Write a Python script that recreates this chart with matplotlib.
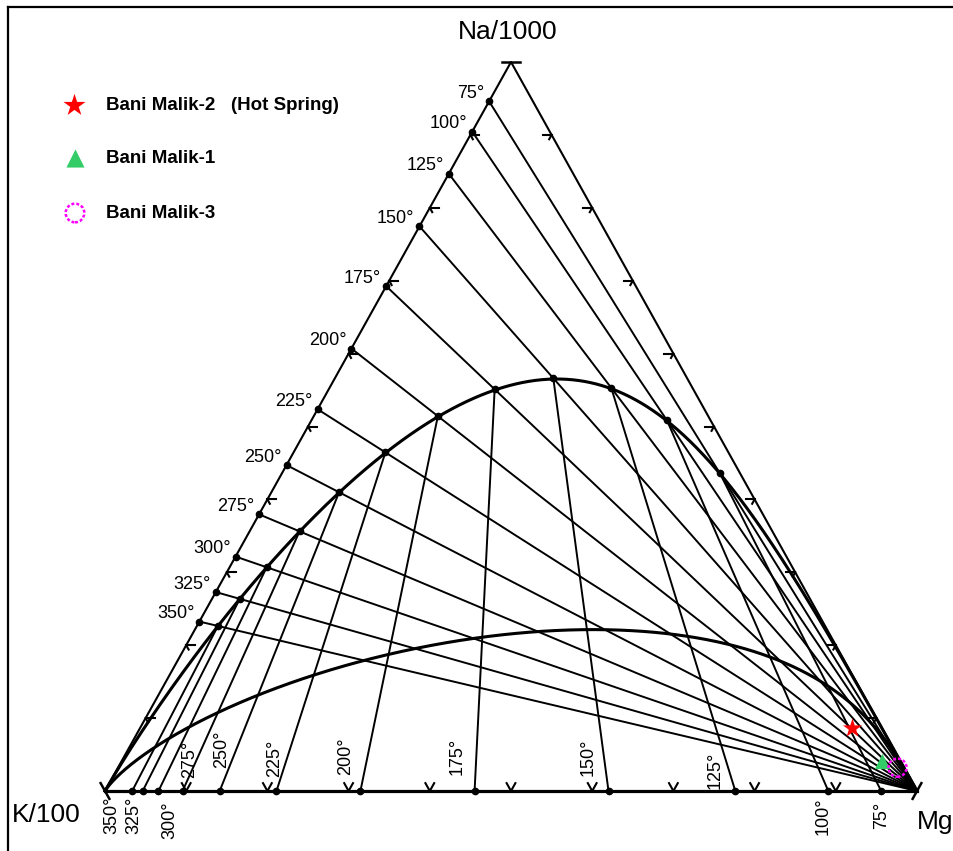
import numpy as np
import matplotlib.pyplot as plt
from matplotlib.lines import Line2D

plt.rcParams['font.family'] = ['Liberation Sans', 'DejaVu Sans']

# isotherm temperatures, deg C
temps = [75, 100, 125, 150, 175, 200, 225, 250, 275, 300, 325, 350]

# Giggenbach (1988) geothermometers
# log(Na/K) = NAK_A/(T+273) - NAK_B ; log(K^2/Mg) = KMG_B - KMG_A/(T+273)
NAK_A, NAK_B = 1390.0, 1.75
KMG_A, KMG_B = 4410.0, 14.0
MI_FULL, MI_PARTIAL = 2.66, 2.0   # maturity index of the two curves

# samples, in % of (Na/1000 + K/100 + sqrt(Mg))
names = ['Bani Malik-2   (Hot Spring)', 'Bani Malik-1', 'Bani Malik-3']
na_pct = [8.6, 4.1, 3.2]
k_pct = [3.7, 2.3, 0.8]
mg_pct = [87.7, 93.6, 96.0]

# ---- ternary helpers (K left, Mg right, Na top) ----
PX, PY = 812.0, 729.0          # pixels per unit in x / y


def tern(na, k, mg):
    na, k, mg = np.asarray(na, float), np.asarray(k, float), np.asarray(mg, float)
    s = na + k + mg
    return (mg + na / 2) / s, na / s


def pix(px, py):
    # layout helper: image pixel -> data coords
    return (px - 105) / PX, (791 - py) / PY


def step(d, L):
    # move L pixels along data-direction d
    dx, dy = d
    n = np.hypot(dx * PX, dy * PY)
    return dx / n * L, dy / n * L


fig = plt.figure(figsize=(9.54, 8.51), dpi=100)
ax = fig.add_axes([0, 0, 1, 1])
ax.set_xlim(-105 / PX, 849 / PX)
ax.set_ylim(-60 / PY, 791 / PY)
ax.axis('off')

# border (top and left only)
fig.add_artist(Line2D([8 / 954, 1], [1 - 7 / 851] * 2, color='black', lw=1.6,
                      transform=fig.transFigure))
fig.add_artist(Line2D([8 / 954] * 2, [1 - 7 / 851, 0], color='black', lw=1.6,
                      transform=fig.transFigure))

# triangle
ax.plot([0, 0.5, 1], [0, 1, 0], color='black', lw=1.5)
ax.plot([0, 1], [0, 0], color='black', lw=2.3)

# edge ticks every 10 %
for f in np.arange(1, 10) / 10:
    # left edge
    x0, y0 = f / 2, f
    for d, L in [((1, 0), 9), ((0.5, -1), 5)]:
        dx, dy = step(d, L)
        ax.plot([x0, x0 + dx], [y0, y0 + dy], color='black', lw=1.5)
    # right edge
    x0, y0 = 1 - f / 2, f
    for d, L in [((-1, 0), 9), ((-0.5, -1), 5)]:
        dx, dy = step(d, L)
        ax.plot([x0, x0 + dx], [y0, y0 + dy], color='black', lw=1.5)
    # bottom edge
    x0, y0 = f, 0
    for d in [(-0.5, 1), (0.5, 1)]:
        dx, dy = step(d, 9)
        ax.plot([x0, x0 + dx], [y0, y0 + dy], color='black', lw=1.5)

# corner bars
for (cx, cy), d in [((0.5, 1), (1, 0)), ((0, 0), (-0.5, 1)), ((1, 0), (0.5, 1))]:
    dx, dy = step(d, 9)
    ax.plot([cx - dx, cx + dx], [cy - dy, cy + dy], color='black', lw=1.8)

# equilibrium curves
L = np.linspace(-7, 7, 3000)          # log(k/mg) in ternary units
for mi in [MI_FULL, MI_PARTIAL]:
    lkn = 2.26 + 0.63 * L - mi          # log(k/na)
    cx, cy = tern(10 ** (-lkn), np.ones_like(L), 10 ** (-L))
    ax.plot(cx, cy, color='black', lw=2.2)

# isotherms
theta = np.array(temps, float) + 273
r_nak = 10 ** (NAK_A / theta - NAK_B) / 10        # (Na/1000)/(K/100)
left_na = r_nak / (1 + r_nak)
r_kmg = 10 ** ((KMG_B - KMG_A / theta - 4) / 2)   # (K/100)/sqrt(Mg)
bot_mg = 1 / (1 + r_kmg)

lx, ly = left_na / 2, left_na
bx, by = bot_mg, np.zeros_like(bot_mg)

# intersections on the full-equilibrium curve
ix, iy = [], []
for a, b in zip(left_na, bot_mg):
    # line Mg(1,0) -> (a/2, a) ; line (b,0) -> Na(0.5,1)
    A = np.array([[a / 2 - 1, -(0.5 - b)], [a, -1.0]])
    rhs = np.array([b - 1, 0.0])
    t, u = np.linalg.solve(A, rhs)
    ix.append(1 + t * (a / 2 - 1))
    iy.append(t * a)

for i in range(len(temps)):
    ax.plot([lx[i], 1], [ly[i], 0], color='black', lw=1.4)
    ax.plot([bx[i], ix[i]], [0, iy[i]], color='black', lw=1.4)

ax.plot(lx, ly, 'o', color='black', ms=4.5)
ax.plot(bx, by, 'o', color='black', ms=4.5)
ax.plot(ix, iy, 'o', color='black', ms=4.5)

# temperature labels
for i, t in enumerate(temps):
    ax.text(lx[i] - 5 / PX, ly[i] + 8 / PY, f'{t}°', fontsize=13,
            ha='right', va='center')

bottom_off = [(0, -24), (-5, -25), (-20, 21), (-20, 34), (-17, 35), (-15, 35),
              (-2, 33), (2, 42), (7, 32), (11, -29), (-9, -24), (-20, -24)]
for i, t in enumerate(temps):
    dx, dy = bottom_off[i]
    ax.text(bx[i] + dx / PX, dy / PY, f'{t}°', fontsize=13, rotation=90,
            ha='center', va='center')

# corner labels
ax.text(*pix(508, 32), 'Na/1000', fontsize=19, ha='center', va='center')
ax.text(*pix(12, 815), 'K/100', fontsize=19, ha='left', va='center')
ax.text(*pix(917, 822), 'Mg', fontsize=19, ha='left', va='center')

# samples
sx, sy = tern(na_pct, k_pct, mg_pct)
ax.scatter(sx[0], sy[0], marker='*', s=210, color='red', zorder=5, linewidths=0)
ax.scatter(sx[1], sy[1], marker='^', s=120, color='#33cc66', zorder=5, linewidths=0)
ax.scatter(sx[2], sy[2], marker='o', s=170, facecolors='none', edgecolors='magenta',
           linewidths=1.8, linestyle=(0, (1.2, 0.8)), zorder=5)

# legend
leg_y = [105, 158, 213]
ax.scatter(*pix(74, leg_y[0]), marker='*', s=280, color='red', linewidths=0)
ax.scatter(*pix(75, leg_y[1]), marker='^', s=170, color='#33cc66', linewidths=0)
ax.scatter(*pix(75, leg_y[2]), marker='o', s=180, facecolors='none',
           edgecolors='magenta', linewidths=1.8, linestyle=(0, (1.2, 0.8)))
for name, yy in zip(names, leg_y):
    ax.text(*pix(106, yy), name, fontsize=13.5, fontweight='bold',
            ha='left', va='center')

fig.savefig('out.png', dpi=100)
